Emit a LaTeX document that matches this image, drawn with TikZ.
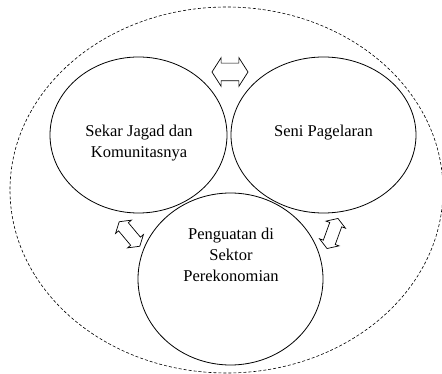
\documentclass[tikz,border=0pt]{standalone}
\usepackage{fontspec}
\setmainfont{Liberation Serif}
\usetikzlibrary{shapes.geometric,shapes.arrows}

\tikzset{
    ring/.style={draw, ellipse, line width=0.8pt, inner sep=0pt},
    halo/.style={draw, ellipse, line width=0.6pt, dash pattern=on 3pt off 2pt, inner sep=0pt},
    dblarrow/.style={draw, double arrow, line width=0.7pt, inner xsep=0pt,
        double arrow tip angle=115},
    lbl/.style={inner sep=0pt, align=center, anchor=north,
        font=\fontsize{16.5}{21}\selectfont}
}

\begin{document}
\begin{tikzpicture}[x=1pt, y=-1pt] % pixel grid, y downwards
    \useasboundingbox (0,0) rectangle (442,374);

    \node[halo, minimum width=433pt, minimum height=366pt] (outer) at (226.5,190) {};

    \foreach \n/\x/\y/\w/\h in {left/138.5/135/177/156, right/323.5/135/185/156, bottom/230.5/279/185/172}
        \node[ring, minimum width=\w pt, minimum height=\h pt] (\n) at (\x,\y) {};

    \node[lbl] (tleft) at (139,125) {Sekar Jagad dan\\Komunitasnya};
    \node[lbl] (tright) at (323.5,125) {Seni Pagelaran};
    \node[lbl] (tbottom) at (231,228) {Penguatan di\\Sektor\\Perekonomian};

    \node[dblarrow, minimum height=36pt, inner ysep=8.5pt, double arrow head extend=5.5pt] (atop) at (230,72) {};
    \node[dblarrow, minimum height=32pt, inner ysep=6pt, double arrow head extend=4pt, rotate=-50] (aleft) at (129.5,234) {};
    \node[dblarrow, minimum height=32pt, inner ysep=6pt, double arrow head extend=4pt, rotate=70] (aright) at (332.5,233.5) {};
\end{tikzpicture}
\end{document}
